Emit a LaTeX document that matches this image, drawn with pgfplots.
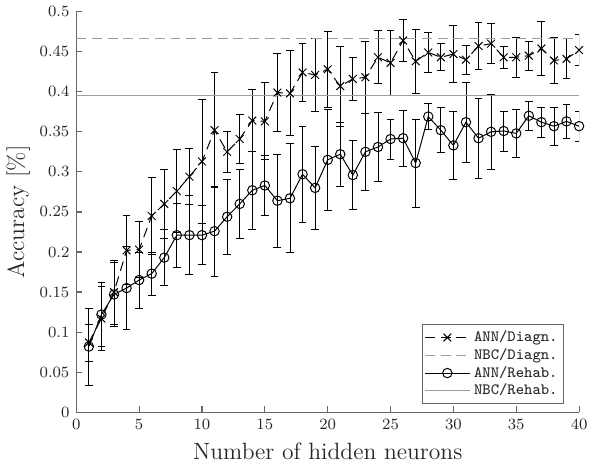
\documentclass[border=0pt]{standalone}
\usepackage{fontspec}
\usepackage{pgfplots}
\pgfplotsset{compat=1.18}

\definecolor{axgray}{gray}{0.4}
\definecolor{txtgray}{gray}{0.15}
\definecolor{nbcgray}{gray}{0.62}

\begin{document}
\begin{tikzpicture}
\begin{axis}[
    width=256pt, height=204pt,
    scale only axis,
    xmin=0, xmax=40, ymin=0, ymax=0.5,
    xtick={0,5,...,40},
    ytick={0,0.05,0.1,0.15,0.2,0.25,0.3,0.35,0.4,0.45,0.5},
    scaled y ticks=false,
    yticklabel style={/pgf/number format/fixed, /pgf/number format/precision=2},
    axis lines*=left,
    tick align=inside,
    axis line style={axgray, line width=0.6pt},
    every tick/.style={axgray, line width=0.6pt},
    major tick length=3pt,
    tick label style={font=\fontsize{8}{10}\selectfont, txtgray},
    label style={font=\fontsize{12}{14}\selectfont, txtgray},
    xlabel={Number of hidden neurons},
    ylabel={Accuracy [\%]},
    ylabel shift=-2pt,
    legend style={at={(rel axis cs:0.97,0.02)}, anchor=south east,
        font=\ttfamily\fontsize{8}{9}\selectfont, draw=axgray, line width=0.6pt,
        inner sep=1pt, row sep=-2pt, text=txtgray,
        nodes={inner sep=2pt}},
    legend cell align=left,
    legend image code/.code={%
        \draw[mark repeat=2,mark phase=2] plot coordinates {(0cm,0cm) (0.4cm,0cm) (0.8cm,0cm)};},
    error bars/error bar style={solid, black, line width=0.45pt},
    error bars/error mark options={rotate=90, mark size=2pt, line width=0.45pt, solid},
]
% ANN / Diagn.
\addplot[black, dash pattern=on 5pt off 3pt, line width=0.5pt,
    mark=x, mark size=2.8pt, mark options={solid},
    error bars/.cd, y dir=both, y explicit]
coordinates {
(1,0.087) +- (0,0.023) (2,0.117) +- (0,0.040) (3,0.150) +- (0,0.040)
(4,0.202) +- (0,0.043) (5,0.203) +- (0,0.035) (6,0.245) +- (0,0.048)
(7,0.260) +- (0,0.043) (8,0.276) +- (0,0.052) (9,0.294) +- (0,0.035)
(10,0.313) +- (0,0.077) (11,0.352) +- (0,0.072) (12,0.325) +- (0,0.026)
(13,0.341) +- (0,0.031) (14,0.364) +- (0,0.039) (15,0.363) +- (0,0.048)
(16,0.399) +- (0,0.049) (17,0.398) +- (0,0.053) (18,0.424) +- (0,0.036)
(19,0.421) +- (0,0.046) (20,0.428) +- (0,0.047) (21,0.407) +- (0,0.050)
(22,0.416) +- (0,0.027) (23,0.418) +- (0,0.045) (24,0.443) +- (0,0.033)
(25,0.436) +- (0,0.041) (26,0.464) +- (0,0.026) (27,0.438) +- (0,0.040)
(28,0.449) +- (0,0.025) (29,0.443) +- (0,0.017) (30,0.447) +- (0,0.036)
(31,0.440) +- (0,0.018) (32,0.457) +- (0,0.029) (33,0.460) +- (0,0.025)
(34,0.443) +- (0,0.014) (35,0.443) +- (0,0.025) (36,0.445) +- (0,0.018)
(37,0.454) +- (0,0.034) (38,0.439) +- (0,0.029) (39,0.441) +- (0,0.025)
(40,0.452) +- (0,0.019)
};
\addlegendentry{ANN/Diagn.}
% NBC / Diagn.
\addplot[nbcgray, dash pattern=on 5pt off 3pt, line width=0.5pt]
coordinates {(0,0.467) (40,0.467)};
\addlegendentry{NBC/Diagn.}
% ANN / Rehab.
\addplot[black, solid, line width=0.5pt,
    mark=o, mark size=2.4pt,
    error bars/.cd, y dir=both, y explicit]
coordinates {
(1,0.082) +- (0,0.048) (2,0.122) +- (0,0.040) (3,0.147) +- (0,0.040)
(4,0.155) +- (0,0.052) (5,0.165) +- (0,0.035) (6,0.173) +- (0,0.027)
(7,0.193) +- (0,0.035) (8,0.221) +- (0,0.040) (9,0.221) +- (0,0.049)
(10,0.221) +- (0,0.037) (11,0.226) +- (0,0.056) (12,0.244) +- (0,0.047)
(13,0.260) +- (0,0.043) (14,0.277) +- (0,0.049) (15,0.283) +- (0,0.037)
(16,0.264) +- (0,0.058) (17,0.267) +- (0,0.068) (18,0.297) +- (0,0.060)
(19,0.280) +- (0,0.052) (20,0.315) +- (0,0.063) (21,0.322) +- (0,0.040)
(22,0.296) +- (0,0.043) (23,0.325) +- (0,0.048) (24,0.331) +- (0,0.043)
(25,0.341) +- (0,0.025) (26,0.342) +- (0,0.035) (27,0.311) +- (0,0.055)
(28,0.369) +- (0,0.016) (29,0.352) +- (0,0.028) (30,0.333) +- (0,0.042)
(31,0.362) +- (0,0.050) (32,0.342) +- (0,0.050) (33,0.350) +- (0,0.047)
(34,0.351) +- (0,0.025) (35,0.348) +- (0,0.030) (36,0.370) +- (0,0.018)
(37,0.362) +- (0,0.019) (38,0.357) +- (0,0.024) (39,0.363) +- (0,0.021)
(40,0.357) +- (0,0.019)
};
\addlegendentry{ANN/Rehab.}
% NBC / Rehab.
\addplot[nbcgray, solid, line width=0.5pt]
coordinates {(0,0.395) (40,0.395)};
\addlegendentry{NBC/Rehab.}
\end{axis}
\end{tikzpicture}
\end{document}
